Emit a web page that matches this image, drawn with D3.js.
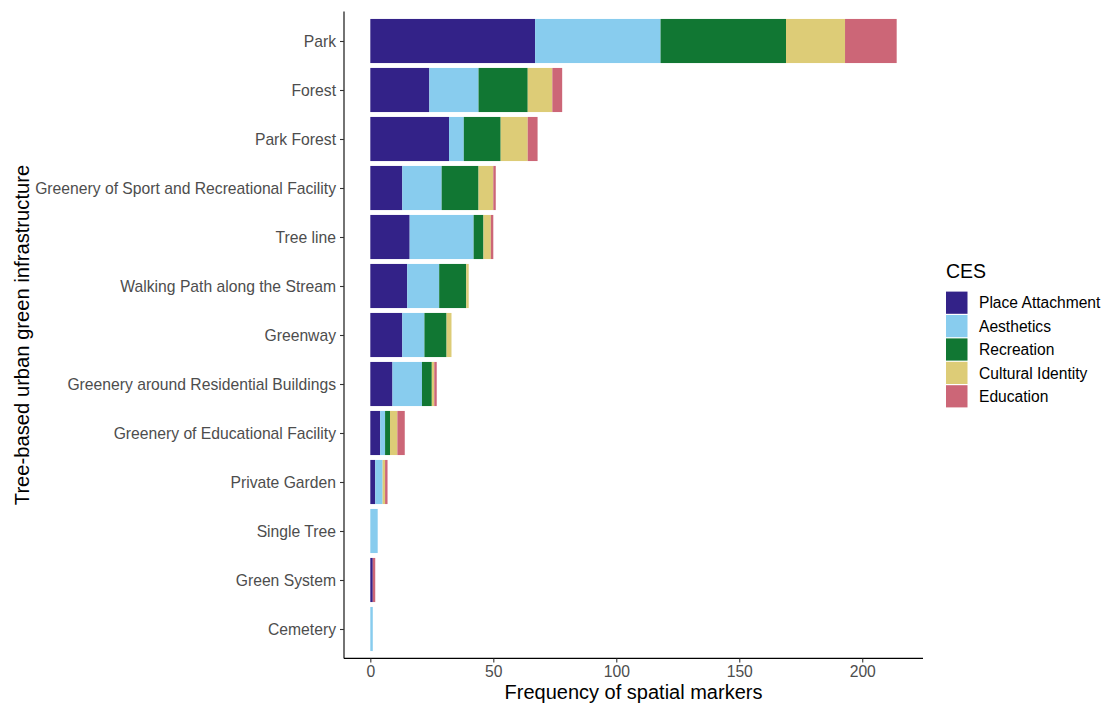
<!DOCTYPE html>
<html>
<head>
<meta charset="utf-8">
<script src="https://cdn.jsdelivr.net/npm/d3@7"></script>
<style>
  body { margin: 0; background: #fff; }
  text { font-family: "Liberation Sans", Arial, sans-serif; }
</style>
</head>
<body>
<svg id="chart" width="1105" height="705"></svg>
<script>
// values, top row first
let categories = ['Park', 'Forest', 'Park Forest', 'Greenery of Sport and Recreational Facility', 'Tree line',
    'Walking Path along the Stream', 'Greenway', 'Greenery around Residential Buildings',
    'Greenery of Educational Facility', 'Private Garden', 'Single Tree', 'Green System', 'Cemetery'];
let cesNames = ['Place Attachment', 'Aesthetics', 'Recreation', 'Cultural Identity', 'Education'];
let placeAttachment = [67, 24, 32, 13, 16, 15, 13, 9, 4, 2, 0, 1, 0];
let aesthetics = [51, 20, 6, 16, 26, 13, 9, 12, 2, 3, 3, 0, 1];
let recreation = [51, 20, 15, 15, 4, 11, 9, 4, 2, 0, 0, 0, 0];
let culturalIdentity = [24, 10, 11, 6, 3, 1, 2, 1, 3, 1, 0, 0, 0];
let education = [21, 4, 4, 1, 1, 0, 0, 1, 3, 1, 0, 1, 0];
let xTicks = [0, 50, 100, 150, 200];
let colors = ['#332288', '#88CCEE', '#117733', '#DDCC77', '#CC6677'];

function init() {
    let svg = d3.select('#chart');
    let left = 344, right = 923, top = 11.6, bottom = 658.4;

    let rows = categories.map((c, i) => ({
        cat: c,
        'Place Attachment': placeAttachment[i],
        'Aesthetics': aesthetics[i],
        'Recreation': recreation[i],
        'Cultural Identity': culturalIdentity[i],
        'Education': education[i]
    }));
    let stacked = d3.stack().keys(cesNames)(rows);

    let maxTotal = d3.max(rows, r => d3.sum(cesNames, k => r[k]));
    let pad = maxTotal * 0.05;
    let x = d3.scaleLinear().domain([-pad, maxTotal + pad]).range([left, right]);

    // discrete axis: 0.6 of a step added on each side, bars 0.9 wide
    let step = (bottom - top) / (categories.length - 1 + 1.2);
    let y = d3.scalePoint().domain(categories).range([top + 0.6 * step, bottom - 0.6 * step]);
    let barH = step * 0.9;

    let color = d3.scaleOrdinal().domain(cesNames).range(colors);

    svg.append('g').selectAll('g').data(stacked).join('g')
        .attr('fill', d => color(d.key))
        .selectAll('rect').data(d => d).join('rect')
        .attr('x', d => x(d[0]))
        .attr('y', d => y(d.data.cat) - barH / 2)
        .attr('width', d => x(d[1]) - x(d[0]))
        .attr('height', barH);

    // x axis
    let xAxis = svg.append('g').attr('transform', `translate(0, ${bottom})`)
        .call(d3.axisBottom(x).tickValues(xTicks).tickSize(4).tickPadding(3));
    xAxis.select('.domain').attr('d', `M${left},0H${right}`).attr('stroke', '#000').attr('stroke-width', 1.1);
    xAxis.selectAll('.tick line').attr('stroke', '#333').attr('stroke-width', 1.1);
    xAxis.selectAll('.tick text').attr('fill', '#4D4D4D').style('font-size', '15.7px')
        .style('font-family', '"Liberation Sans", Arial, sans-serif');

    // y axis
    let yAxis = svg.append('g').attr('transform', `translate(${left}, 0)`)
        .call(d3.axisLeft(y).tickSize(4).tickPadding(4));
    yAxis.select('.domain').attr('d', `M0,${top}V${bottom}`).attr('stroke', '#000').attr('stroke-width', 1.1);
    yAxis.selectAll('.tick line').attr('stroke', '#333').attr('stroke-width', 1.1);
    yAxis.selectAll('.tick text').attr('fill', '#4D4D4D').style('font-size', '15.7px')
        .style('font-family', '"Liberation Sans", Arial, sans-serif');

    // axis titles
    svg.append('text')
        .attr('x', (left + right) / 2)
        .attr('y', 699)
        .attr('text-anchor', 'middle')
        .style('font-size', '20px')
        .text('Frequency of spatial markers');
    svg.append('text')
        .attr('transform', `translate(29, ${(top + bottom) / 2}) rotate(-90)`)
        .attr('text-anchor', 'middle')
        .style('font-size', '20.2px')
        .text('Tree-based urban green infrastructure');

    // legend
    let legend = svg.append('g').attr('transform', 'translate(946, 0)');
    legend.append('text').attr('x', 0).attr('y', 278).style('font-size', '19.5px').text('CES');
    let keyH = 23.4;
    let keys = legend.selectAll('g.key').data(cesNames).join('g').attr('class', 'key')
        .attr('transform', (d, i) => `translate(0, ${291 + i * keyH})`);
    keys.append('rect')
        .attr('x', 0).attr('y', 0.6)
        .attr('width', 21.5).attr('height', keyH - 1.2)
        .attr('fill', d => color(d));
    keys.append('text')
        .attr('x', 33).attr('y', keyH / 2)
        .attr('dy', '0.36em')
        .style('font-size', '15.6px')
        .attr('fill', '#000')
        .text(d => d);
}

init();
</script>
</body>
</html>
